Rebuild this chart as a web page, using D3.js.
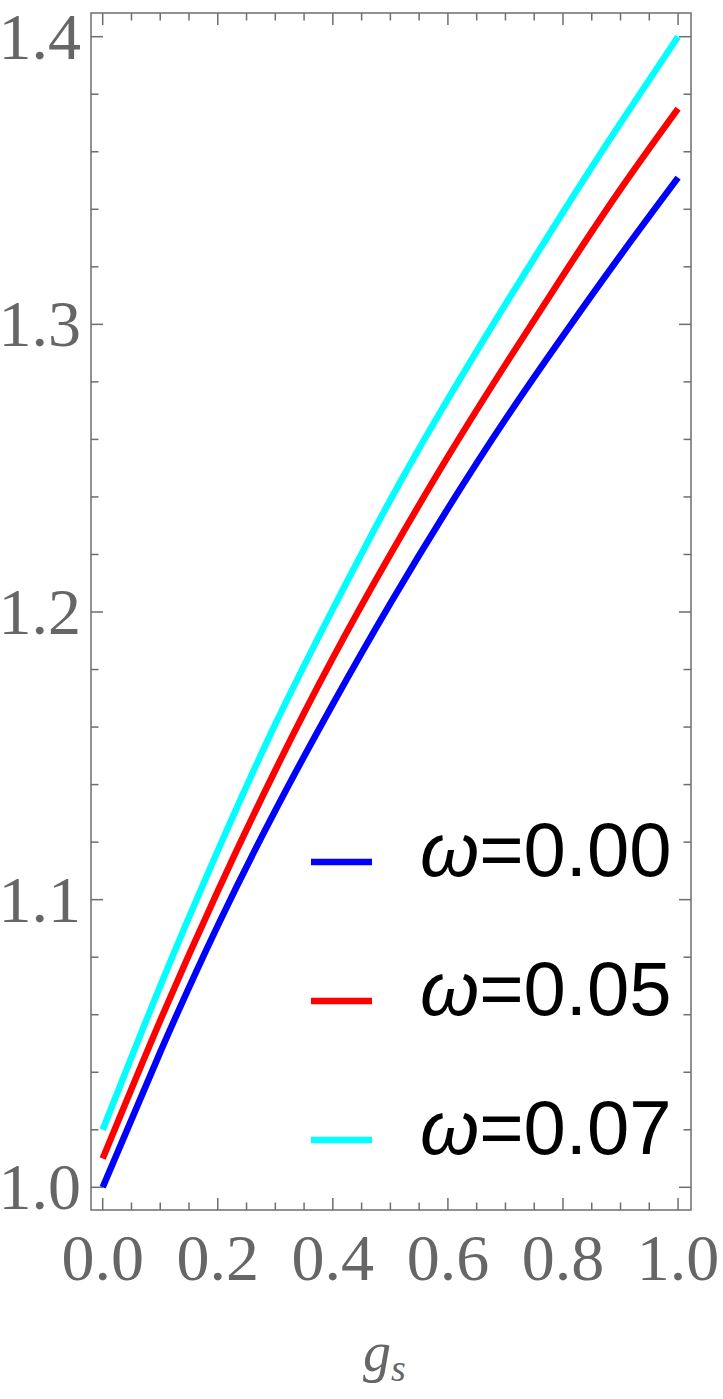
<!DOCTYPE html>
<html>
<head>
<meta charset="utf-8">
<script src="https://cdn.jsdelivr.net/npm/d3@7"></script>
<style>
html,body{margin:0;padding:0;background:#fff;}
svg{display:block;}
</style>
</head>
<body>
<svg id="chart" width="723" height="1399"></svg>
<script>
// ---- data ----
const gValues = [0, 0.1, 0.2, 0.3, 0.4, 0.5, 0.6, 0.7, 0.8, 0.9, 1.0];
const omega000 = [1.000, 1.047, 1.091, 1.131, 1.168, 1.203, 1.236, 1.267, 1.296, 1.324, 1.351];
const omega005 = [1.010, 1.058, 1.103, 1.145, 1.184, 1.220, 1.254, 1.286, 1.317, 1.347, 1.375];
const omega007 = [1.020, 1.070, 1.117, 1.161, 1.201, 1.239, 1.274, 1.307, 1.339, 1.370, 1.400];
const seriesNames = ["0.00", "0.05", "0.07"];
const seriesColors = ["#0000ff", "#ff0000", "#00ffff"];
const xTickLabels = ["0.0", "0.2", "0.4", "0.6", "0.8", "1.0"];
const yTickLabels = ["1.0", "1.1", "1.2", "1.3", "1.4"];

const series = [omega000, omega005, omega007];

// ---- layout ----
const pLeft = 91, pRight = 691, pTop = 13, pBottom = 1210;
const axisColor = "#6e6e6e";
const svg = d3.select("#chart");

const x = d3.scaleLinear().domain([-0.02034, 1.0225]).range([pLeft, pRight]);
const y = d3.scaleLinear().domain([0.99211, 1.40824]).range([pBottom, pTop]);

// frame
svg.append("rect")
  .attr("x", pLeft).attr("y", pTop)
  .attr("width", pRight - pLeft).attr("height", pBottom - pTop)
  .attr("fill", "none").attr("stroke", axisColor).attr("stroke-width", 1.5);

// ticks
const xMajor = xTickLabels.map(Number);
const xMinor = d3.range(0, 21).map(i => i * 0.05).filter(v => !xMajor.some(m => Math.abs(m - v) < 1e-9));
const yMajor = yTickLabels.map(Number);
const yMinor = d3.range(0, 21).map(i => 1 + i * 0.02).filter(v => !yMajor.some(m => Math.abs(m - v) < 1e-9));

const tickG = svg.append("g").attr("stroke", axisColor).attr("stroke-width", 1.5);
function xt(vals, len) {
  vals.forEach(v => {
    const px = x(v);
    tickG.append("line").attr("x1", px).attr("x2", px).attr("y1", pBottom).attr("y2", pBottom - len);
    tickG.append("line").attr("x1", px).attr("x2", px).attr("y1", pTop).attr("y2", pTop + len);
  });
}
function yt(vals, len) {
  vals.forEach(v => {
    const py = y(v);
    tickG.append("line").attr("x1", pLeft).attr("x2", pLeft + len).attr("y1", py).attr("y2", py);
    tickG.append("line").attr("x1", pRight).attr("x2", pRight - len).attr("y1", py).attr("y2", py);
  });
}
xt(xMajor, 12); xt(xMinor, 7.5);
yt(yMajor, 12); yt(yMinor, 7.5);

// tick labels
const labelFont = "'Liberation Serif', 'Times New Roman', serif";
svg.append("g").selectAll("text").data(xTickLabels).join("text")
  .attr("x", d => x(+d)).attr("y", 1280)
  .attr("text-anchor", "middle")
  .attr("font-family", labelFont).attr("font-size", 66)
  .attr("fill", "#666666")
  .text(d => d);

svg.append("g").selectAll("text").data(yTickLabels).join("text")
  .attr("x", 81).attr("y", d => y(+d) + 22)
  .attr("text-anchor", "end")
  .attr("font-family", labelFont).attr("font-size", 66)
  .attr("fill", "#666666")
  .text(d => d);

// x axis label g_s
const xl = svg.append("text")
  .attr("x", 363).attr("y", 1371)
  .attr("font-family", labelFont).attr("font-style", "italic")
  .attr("fill", "#666666");
xl.append("tspan").attr("font-size", 56).text("g");
xl.append("tspan").attr("font-size", 38).attr("dy", 10).text("s");

// curves
const line = d3.line()
  .x(d => x(d[0]))
  .y(d => y(d[1]))
  .curve(d3.curveNatural);

svg.append("g").selectAll("path").data(series).join("path")
  .attr("d", s => line(gValues.map((g, i) => [g, s[i]])))
  .attr("fill", "none")
  .attr("stroke", (d, i) => seriesColors[i])
  .attr("stroke-width", 6.5);

// legend
const legendY = [862, 1001, 1140];
const lg = svg.append("g");
seriesNames.forEach((name, i) => {
  lg.append("line")
    .attr("x1", 311).attr("x2", 372)
    .attr("y1", legendY[i]).attr("y2", legendY[i])
    .attr("stroke", seriesColors[i]).attr("stroke-width", 6.5);
  const t = lg.append("text")
    .attr("x", 420).attr("y", legendY[i] + 14)
    .attr("font-family", "'Liberation Sans', Arial, sans-serif")
    .attr("font-size", 76).attr("fill", "#000");
  t.append("tspan").attr("font-style", "italic").text("ω");
  t.append("tspan").text("=" + name);
});
</script>
</body>
</html>
